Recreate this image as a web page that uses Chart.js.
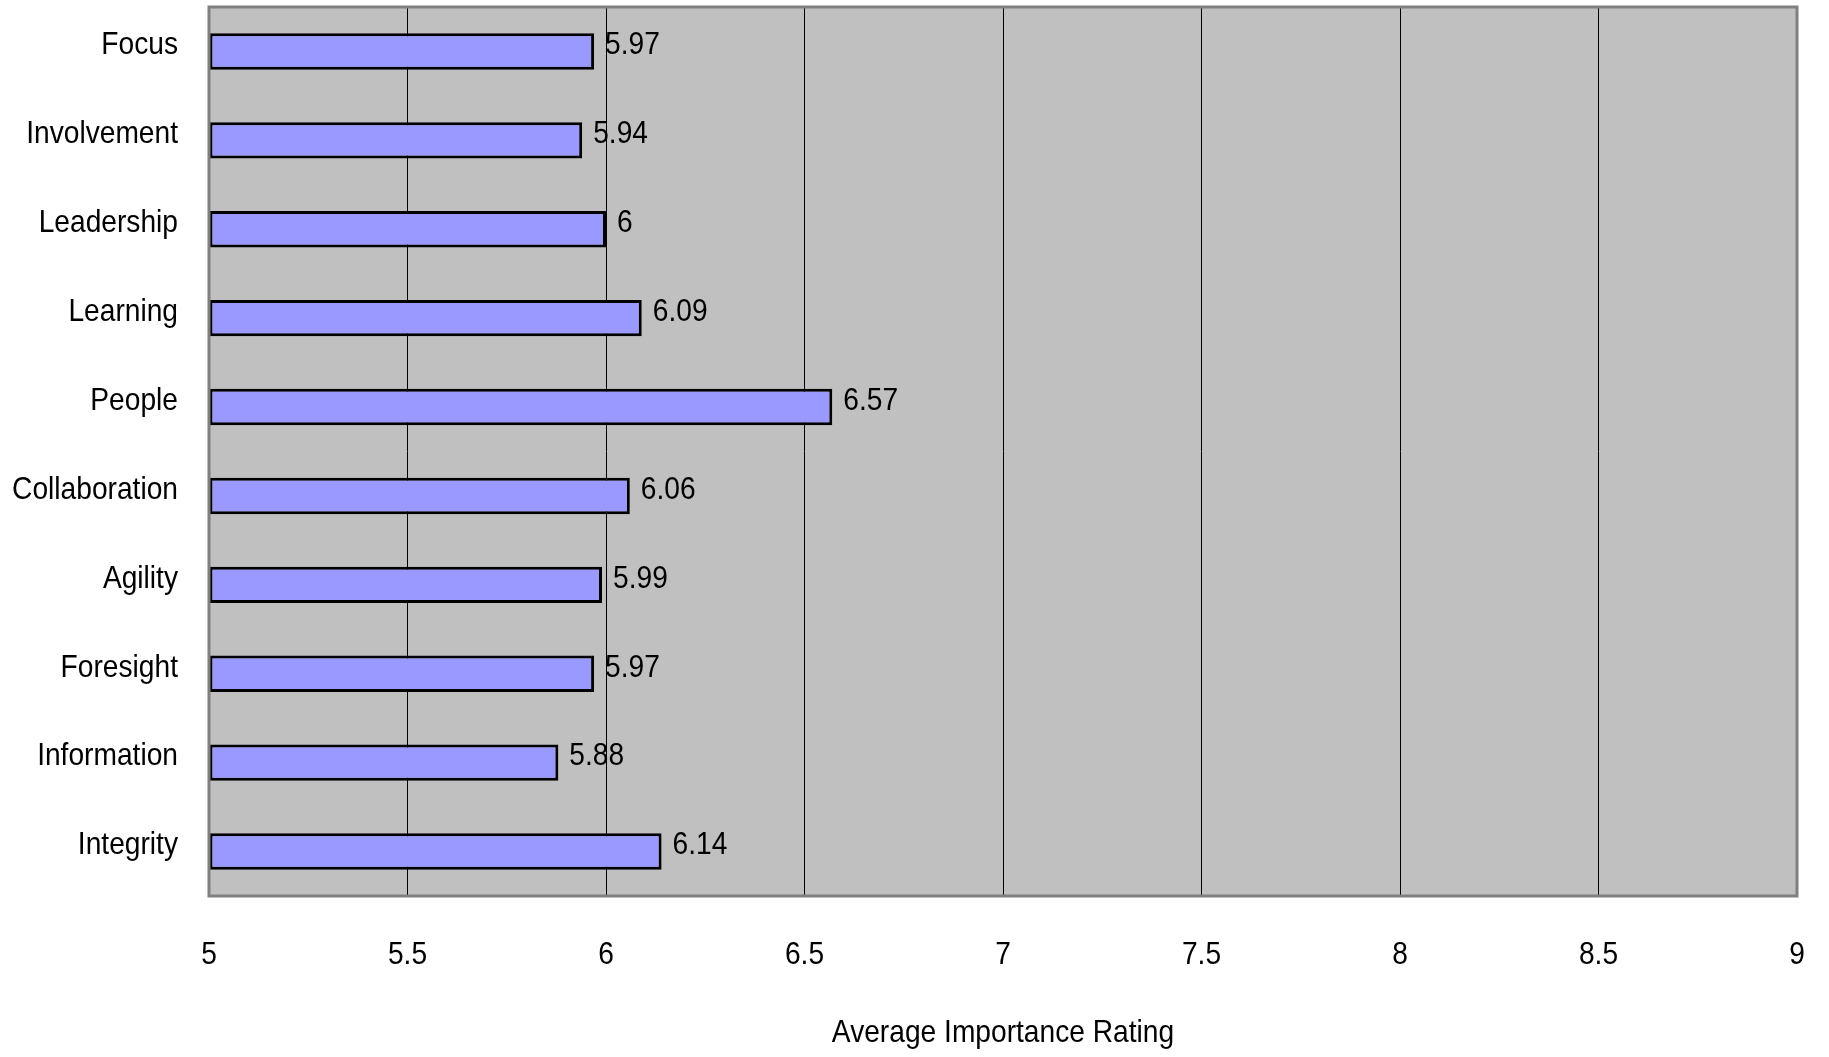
<!DOCTYPE html>
<html>
<head>
<meta charset="utf-8">
<title>Average Importance Rating</title>
<script src="https://cdn.jsdelivr.net/npm/chart.js@4/dist/chart.umd.min.js"></script>
<style>
  html, body { margin: 0; padding: 0; background: #ffffff; }
  #wrap { width: 1829px; height: 1057px; }
</style>
</head>
<body>
<div id="wrap"><canvas id="chart" width="1829" height="1057"></canvas></div>
<script>
// Categories, top to bottom
const categories = ['Focus', 'Involvement', 'Leadership', 'Learning', 'People',
                    'Collaboration', 'Agility', 'Foresight', 'Information', 'Integrity'];
// Average importance rating per category
const ratings = [5.97, 5.94, 6, 6.09, 6.57, 6.06, 5.99, 5.97, 5.88, 6.14];
// Value axis range and tick step
const axisMin = 5;
const axisMax = 9;
const axisStep = 0.5;
const axisTitle = 'Average Importance Rating';

const FONT = '"Liberation Sans", Arial, sans-serif';
const FONT_SIZE = 32;
const NARROW = 0.88;   // horizontal squeeze for a narrow face

// Draw a horizontally condensed text string
function narrowText(ctx, text, x, y, align) {
  ctx.save();
  ctx.translate(x, y);
  ctx.scale(NARROW, 1);
  ctx.textAlign = align;
  ctx.textBaseline = 'middle';
  ctx.fillText(text, 0, 0);
  ctx.restore();
}

// Grey plot background and outer frame
const plotFrame = {
  id: 'plotFrame',
  beforeDraw(chart) {
    const { ctx, chartArea: a } = chart;
    ctx.save();
    ctx.fillStyle = '#c0c0c0';
    ctx.fillRect(a.left, a.top, a.right - a.left, a.bottom - a.top);
    ctx.restore();
  },
  afterDraw(chart) {
    const { ctx, chartArea: a } = chart;
    ctx.save();
    ctx.strokeStyle = '#808080';
    ctx.lineWidth = 3;
    ctx.strokeRect(a.left, a.top, a.right - a.left, a.bottom - a.top);
    ctx.restore();
  }
};

// Axis labels, axis title and bar value labels in a narrow face
const axisText = {
  id: 'axisText',
  afterDraw(chart) {
    const { ctx, chartArea: a } = chart;
    const xs = chart.scales.x;
    const ys = chart.scales.y;
    ctx.save();
    ctx.font = FONT_SIZE + 'px ' + FONT;
    ctx.fillStyle = '#000000';

    // category labels
    ys.ticks.forEach((t, i) => {
      const y = ys.getPixelForTick(i);
      narrowText(ctx, ys.getLabelForValue(t.value), a.left - 31, y - 6, 'right');
    });

    // value ticks
    xs.ticks.forEach((t) => {
      const x = xs.getPixelForValue(t.value);
      narrowText(ctx, String(+t.value.toFixed(2)), x, a.bottom + 59, 'center');
    });

    // axis title
    narrowText(ctx, axisTitle, (a.left + a.right) / 2, a.bottom + 137, 'center');

    // values at bar ends
    const meta = chart.getDatasetMeta(0);
    const data = chart.data.datasets[0].data;
    meta.data.forEach((bar, i) => {
      narrowText(ctx, String(data[i]), bar.x + 11, bar.y - 6, 'left');
    });
    ctx.restore();
  }
};

new Chart(document.getElementById('chart'), {
  type: 'bar',
  data: {
    labels: categories,
    datasets: [{
      data: ratings,
      base: axisMin,
      backgroundColor: '#9999ff',
      borderColor: '#000000',
      borderWidth: 3,
      borderSkipped: false,
      categoryPercentage: 1,
      barPercentage: 0.41
    }]
  },
  options: {
    indexAxis: 'y',
    responsive: false,
    animation: false,
    devicePixelRatio: 1,
    layout: { padding: { top: 7, right: 32, left: 0, bottom: 0 } },
    plugins: {
      legend: { display: false },
      tooltip: { enabled: false },
      title: { display: false }
    },
    scales: {
      x: {
        type: 'linear',
        min: axisMin,
        max: axisMax,
        afterFit(scale) { scale.height = 161; },
        ticks: { display: false, stepSize: axisStep, autoSkip: false },
        grid: {
          drawTicks: false,
          lineWidth: 1,
          color: (c) => (c.tick && (c.tick.value === axisMin || c.tick.value === axisMax)) ? 'rgba(0,0,0,0)' : '#000000'
        },
        border: { display: false },
        title: { display: false }
      },
      y: {
        afterFit(scale) { scale.width = 209; },
        ticks: { display: false, autoSkip: false },
        grid: { display: false, drawTicks: false },
        border: { display: false }
      }
    }
  },
  plugins: [plotFrame, axisText]
});
</script>
</body>
</html>
